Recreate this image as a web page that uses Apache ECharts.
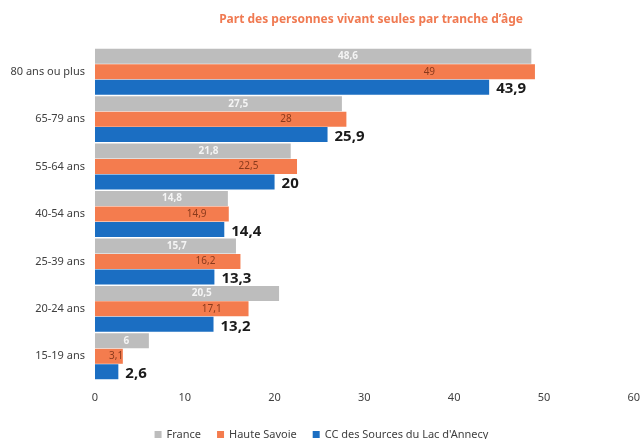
<!DOCTYPE html>
<html>
<head>
<meta charset="utf-8">
<script src="https://cdn.jsdelivr.net/npm/echarts@6/dist/echarts.min.js"></script>
<style>
  html, body { margin: 0; padding: 0; background: #fff; }
  #chart { width: 643px; height: 439px; }
</style>
</head>
<body>
<div id="chart"></div>
<script>
// Age brackets, listed from top to bottom
const categories = ['80 ans ou plus', '65-79 ans', '55-64 ans', '40-54 ans', '25-39 ans', '20-24 ans', '15-19 ans'];

// Share of people living alone (%)
const franceValues = [48.6, 27.5, 21.8, 14.8, 15.7, 20.5, 6];
const hauteSavoieValues = [49, 28, 22.5, 14.9, 16.2, 17.1, 3.1];
const ccValues = [43.9, 25.9, 20, 14.4, 13.3, 13.2, 2.6];

const xTicks = [0, 10, 20, 30, 40, 50, 60];

const seriesNames = ['France', 'Haute Savoie', "CC des Sources du Lac d'Annecy"];

const fontFamily = '"Noto Sans", "Open Sans", sans-serif';
const comma = v => String(v).replace('.', ',');

const chart = echarts.init(document.getElementById('chart'), null, { renderer: 'canvas' });

chart.setOption({
  animation: false,
  backgroundColor: '#ffffff',
  title: {
    text: 'Part des personnes vivant seules par tranche d\u2019\u00e2ge',
    left: 366,
    textAlign: 'center',
    top: 9,
    textStyle: { color: '#f07a52', fontSize: 12, fontWeight: 'bold', fontFamily }
  },
  legend: {
    data: seriesNames,
    top: 424,
    left: 'center',
    icon: 'rect',
    itemWidth: 7,
    itemHeight: 7,
    itemGap: 16,
    textStyle: { color: '#404040', fontSize: 11, fontFamily }
  },
  grid: { left: 95, right: 9, top: 48, bottom: 59, containLabel: false },
  xAxis: {
    type: 'value',
    min: xTicks[0],
    max: xTicks[xTicks.length - 1],
    interval: 10,
    axisLine: { show: false },
    axisTick: { show: false },
    splitLine: { show: false },
    axisLabel: { color: '#404040', fontSize: 11, fontFamily, margin: 12 }
  },
  yAxis: {
    type: 'category',
    data: categories,
    inverse: true,
    axisLine: { show: false },
    axisTick: { show: false },
    axisLabel: { color: '#404040', fontSize: 11, fontFamily, margin: 10 }
  },
  series: [
    {
      name: seriesNames[0],
      type: 'bar',
      data: franceValues,
      barWidth: 15,
      barGap: '3%',
      itemStyle: { color: '#bdbdbd' },
      label: {
        show: true,
        position: ['58%', '50%'],
        align: 'center',
        verticalAlign: 'middle',
        color: '#f4f4f4',
        fontSize: 10,
        fontWeight: 'bold',
        fontFamily,
        formatter: p => comma(p.value)
      }
    },
    {
      name: seriesNames[1],
      type: 'bar',
      data: hauteSavoieValues,
      barWidth: 15,
      barGap: '3%',
      itemStyle: { color: '#f47c4e' },
      label: {
        show: true,
        position: ['76%', '50%'],
        align: 'center',
        verticalAlign: 'middle',
        color: '#8a3a1c',
        fontSize: 10,
        fontFamily,
        formatter: p => comma(p.value)
      }
    },
    {
      name: seriesNames[2],
      type: 'bar',
      data: ccValues,
      barWidth: 15,
      barGap: '3%',
      itemStyle: { color: '#1b6ec2' },
      label: {
        show: true,
        position: 'right',
        distance: 7,
        offset: [0, 2],
        color: '#1a1a1a',
        fontSize: 15,
        fontWeight: 'bold',
        fontFamily,
        formatter: p => comma(p.value)
      }
    }
  ]
});
</script>
</body>
</html>
